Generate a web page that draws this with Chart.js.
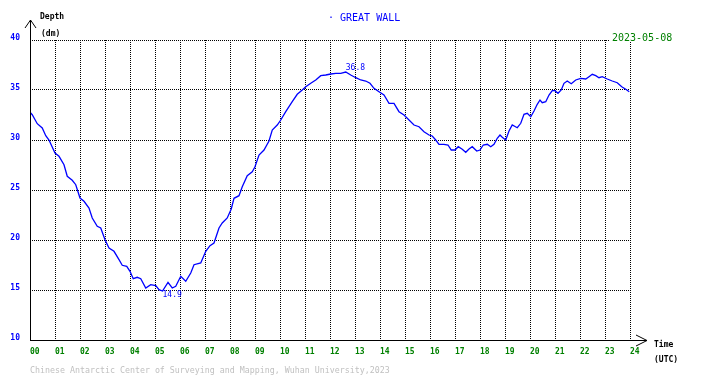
<!DOCTYPE html>
<html>
<head>
<meta charset="utf-8">
<script src="https://cdn.jsdelivr.net/npm/chart.js@4.4.1/dist/chart.umd.min.js"></script>
<style>
  html, body { margin: 0; padding: 0; background: #fff; }
</style>
</head>
<body>
<canvas id="tide" width="710" height="378"></canvas>
<script>
// readings, 2023-05-08 (hour UTC, depth dm)
const hours = [
  0, 0.09, 0.29, 0.49, 0.63, 0.76, 1.0, 1.16, 1.36, 1.49, 1.69, 1.83,
  2.0, 2.16, 2.36, 2.49, 2.69, 2.83, 3.0, 3.16, 3.36, 3.56, 3.69, 3.87,
  4.0, 4.13, 4.29, 4.43, 4.63, 4.83, 5.03, 5.16, 5.3, 5.52, 5.69, 5.83,
  6.03, 6.23, 6.43, 6.56, 6.83, 7.03, 7.2, 7.36, 7.56, 7.69, 7.89, 8.05,
  8.16, 8.36, 8.49, 8.69, 8.89, 9.0, 9.16, 9.36, 9.56, 9.69, 9.89,
  10.03, 10.23, 10.36, 10.49, 10.69, 10.89, 11.03, 11.23, 11.43, 11.63, 11.83,
  12.03, 12.23, 12.43, 12.63, 12.83, 13.03, 13.23, 13.43, 13.6, 13.76, 13.96,
  14.16, 14.36, 14.56, 14.76, 14.96, 15.16, 15.36, 15.56, 15.76, 15.96,
  16.09, 16.23, 16.36, 16.56, 16.72, 16.85, 17.0, 17.13, 17.29, 17.43, 17.56, 17.69, 17.87,
  18.0, 18.13, 18.29, 18.43, 18.56, 18.69, 18.8, 18.89, 19.03, 19.16, 19.29, 19.49, 19.63, 19.76, 19.89,
  20.03, 20.16, 20.29, 20.4, 20.49, 20.63, 20.76, 20.89, 21.0, 21.12, 21.25, 21.36, 21.49, 21.65, 21.83,
  22.03, 22.23, 22.36, 22.49, 22.63, 22.76, 22.89, 23.09, 23.29, 23.49, 23.67, 23.83, 23.97
];
const depths = [
  32.77, 32.53, 31.63, 31.2, 30.43, 30.0, 28.7, 28.37, 27.53, 26.37, 25.97, 25.53,
  24.2, 23.87, 23.2, 22.2, 21.37, 21.2, 20.03, 19.2, 18.87, 18.03, 17.47, 17.37,
  16.87, 16.13, 16.27, 16.13, 15.2, 15.53, 15.43, 15.03, 14.9, 15.77, 15.2, 15.37,
  16.37, 15.87, 16.7, 17.53, 17.7, 18.87, 19.43, 19.7, 21.2, 21.7, 22.2, 23.1,
  24.17, 24.43, 25.33, 26.43, 26.83, 27.33, 28.5, 29.0, 29.9, 31.0, 31.5,
  32.0, 32.83, 33.33, 33.83, 34.57, 35.0, 35.33, 35.67, 36.0, 36.43, 36.5,
  36.6, 36.67, 36.67, 36.8, 36.5, 36.23, 36.0, 35.9, 35.67, 35.17, 34.83,
  34.5, 33.67, 33.67, 32.83, 32.5, 32.0, 31.5, 31.33, 30.83, 30.5,
  30.4, 30.0, 29.57, 29.57, 29.5, 29.0, 29.0, 29.33, 29.07, 28.77, 29.1, 29.33, 28.9,
  29.0, 29.5, 29.57, 29.33, 29.57, 30.17, 30.5, 30.27, 30.0, 30.9, 31.5, 31.23, 31.67, 32.57, 32.67,
  32.33, 32.9, 33.57, 34.0, 33.73, 33.83, 34.5, 34.93, 34.93, 34.67, 35.0, 35.67, 35.9, 35.63, 36.0,
  36.17, 36.1, 36.33, 36.57, 36.43, 36.23, 36.33, 36.1, 35.9, 35.73, 35.33, 35.07, 34.83
];
const hourLabels = ["00", "01", "02", "03", "04", "05", "06", "07", "08", "09", "10", "11", "12",
  "13", "14", "15", "16", "17", "18", "19", "20", "21", "22", "23", "24"];
const depthTicks = [10, 15, 20, 25, 30, 35, 40];

const station = "· GREAT WALL";
const dateText = "2023-05-08";
const credit = "Chinese Antarctic Center of Surveying and Mapping, Wuhan University,2023";

const MONO = '"DejaVu Sans Mono", monospace';

// axes with arrows, captions, min/max marks
const decor = {
  id: "decor",
  afterDraw(chart) {
    const ctx = chart.ctx;
    const a = chart.chartArea;
    const xs = chart.scales.x, ys = chart.scales.y;
    ctx.save();
    ctx.strokeStyle = "#000";
    ctx.lineWidth = 1;
    ctx.beginPath();
    ctx.moveTo(a.left + 0.5, a.bottom + 0.5);
    ctx.lineTo(a.left + 0.5, 20);
    ctx.moveTo(a.left - 5, 28);
    ctx.lineTo(a.left + 0.5, 20);
    ctx.lineTo(a.left + 6, 28);
    ctx.moveTo(a.left, a.bottom + 0.5);
    ctx.lineTo(647, a.bottom + 0.5);
    ctx.moveTo(636, a.bottom - 5);
    ctx.lineTo(647, a.bottom + 0.5);
    ctx.lineTo(636, a.bottom + 6);
    ctx.stroke();

    ctx.textBaseline = "alphabetic";
    ctx.textAlign = "left";
    ctx.fillStyle = "#000";
    ctx.font = "bold 8px " + MONO;
    ctx.fillText("Depth", 40, 18.5);
    ctx.fillText("(dm)", 41, 35.5);
    ctx.fillText("Time", 654, 346.5);
    ctx.fillText("(UTC)", 654, 362);

    ctx.fillStyle = "#0000ff";
    ctx.font = "10px " + MONO;
    ctx.fillText(station, 328, 20.5);

    // date sits on a white patch over the top grid line
    ctx.font = "10px " + MONO;
    const dw = ctx.measureText(dateText).width;
    ctx.fillStyle = "#fff";
    ctx.fillRect(610, 31, dw + 4, 11);
    ctx.fillStyle = "#008000";
    ctx.fillText(dateText, 612, 40.5);

    ctx.fillStyle = "#c0c0c0";
    ctx.font = "8.3px " + MONO;
    ctx.fillText(credit, 30, 372.5);

    // max / min labels
    let iMax = 0, iMin = 0;
    depths.forEach((d, i) => {
      if (d > depths[iMax]) iMax = i;
      if (d < depths[iMin]) iMin = i;
    });
    ctx.fillStyle = "#0000ff";
    ctx.font = "8px " + MONO;
    ctx.fillText(depths[iMax].toFixed(1), xs.getPixelForValue(hours[iMax]), ys.getPixelForValue(depths[iMax]) - 2);
    ctx.fillText(depths[iMin].toFixed(1), xs.getPixelForValue(hours[iMin]), ys.getPixelForValue(depths[iMin]) + 6);
    ctx.restore();
  }
};

new Chart(document.getElementById("tide"), {
  type: "line",
  data: {
    datasets: [{
      data: hours.map((h, i) => ({ x: h, y: depths[i] })),
      borderColor: "#0000ff",
      borderWidth: 1.3,
      pointRadius: 0,
      tension: 0,
      fill: false
    }]
  },
  options: {
    responsive: false,
    animation: false,
    devicePixelRatio: 1,
    layout: { padding: { left: 0, top: 40, right: 80, bottom: 0 } },
    plugins: { legend: { display: false }, tooltip: { enabled: false } },
    scales: {
      x: {
        type: "linear",
        min: 0,
        max: 24,
        afterFit: (s) => { s.height = 38; },
        afterBuildTicks: (s) => { s.ticks = hourLabels.map((_, i) => ({ value: i })); },
        border: { display: false, dash: [1, 1] },
        grid: { color: "#000", lineWidth: 1, drawTicks: false },
        ticks: {
          align: "start",
          padding: 7,
          color: "#008000",
          font: { family: MONO, size: 8, weight: "bold" },
          maxRotation: 0,
          autoSkip: false,
          callback: (v) => hourLabels[v]
        }
      },
      y: {
        min: 10,
        max: 40,
        afterFit: (s) => { s.width = 30; },
        afterBuildTicks: (s) => { s.ticks = depthTicks.map((v) => ({ value: v })); },
        border: { display: false, dash: [1, 1] },
        grid: { color: "#000", lineWidth: 1, drawTicks: false },
        ticks: {
          padding: 10,
          labelOffset: -2,
          color: "#0000ff",
          font: { family: MONO, size: 8, weight: "bold" }
        }
      }
    }
  },
  plugins: [decor]
});
</script>
</body>
</html>
